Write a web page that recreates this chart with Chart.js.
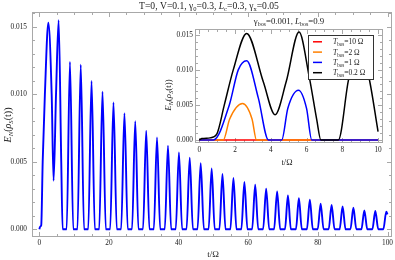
<!DOCTYPE html>
<html>
<head>
<meta charset="utf-8">
<script src="https://cdn.jsdelivr.net/npm/chart.js@4.4.1/dist/chart.umd.min.js"></script>
<style>
  html, body { margin: 0; padding: 0; background: #fff; }
  #wrap { position: relative; width: 395px; height: 260px; }
  #mainChart { position: absolute; left: 0; top: 0; }
  #insetChart { position: absolute; left: 150px; top: 14px; }
</style>
</head>
<body>
<div id="wrap">
  <canvas id="mainChart" width="395" height="260"></canvas>
  <canvas id="insetChart" width="240" height="156"></canvas>
</div>
<script>
// main curve (t/Omega, E_N)
const mainT = [0, 0.25, 0.55, 0.97, 1.6, 2.6, 3.55, 4.1, 4.8, 5.55, 6.3, 6.7,
  7.85, 8.8, 9.75, 10.95, 11.9, 12.85, 14.05, 15.0, 15.95, 17.2, 18.15, 19.1,
  20.35, 21.3, 22.25, 23.5, 24.45, 25.4, 26.63, 27.55, 28.47, 29.78, 30.7, 31.62,
  32.88, 33.8, 34.72, 36.03, 36.95, 37.87, 39.18, 40.1, 41.02, 42.28, 43.2, 44.12,
  45.43, 46.35, 47.27, 48.62, 49.5, 50.38, 51.72, 52.6, 53.48, 54.87, 55.75, 56.63,
  58.02, 58.9, 59.78, 61.12, 62.0, 62.88, 64.27, 65.15, 66.03, 67.42, 68.3, 69.18,
  70.55, 71.4, 72.25, 73.7, 74.55, 75.4, 76.85, 77.7, 78.55, 79.95, 80.8, 81.65,
  83.1, 83.95, 84.8, 86.25, 87.1, 87.95, 89.35, 90.2, 91.05, 92.5, 93.35, 94.2,
  95.65, 96.5, 97.35, 98.8, 99.65, 100];
const mainE = [0, 0.0002, 0.0003, 0.005, 0.010, 0.0153, 0.010, 0.0036, 0.010, 0.0155, 0.005, 0,
  0, 0.0124, 0, 0, 0.0122, 0, 0, 0.0110, 0, 0, 0.0102, 0,
  0, 0.0094, 0, 0, 0.0086, 0, 0, 0.0080, 0, 0, 0.0073, 0,
  0, 0.0068, 0, 0, 0.0062, 0, 0, 0.0057, 0, 0, 0.0053, 0,
  0, 0.0049, 0, 0, 0.0045, 0, 0, 0.0041, 0, 0, 0.0038, 0,
  0, 0.0035, 0, 0, 0.0033, 0, 0, 0.0030, 0, 0, 0.0028, 0,
  0, 0.0025, 0, 0, 0.0023, 0, 0, 0.0022, 0, 0, 0.0019, 0,
  0, 0.0018, 0, 0, 0.0017, 0, 0, 0.0016, 0, 0, 0.0014, 0,
  0, 0.00135, 0, 0, 0.0013, 0.0011];

// inset curves
const tbosLabels = ['10', '2', '1', '0.2'];
const redT = [0, 10];
const redE = [0, 0];
const orangeT = [0, 1.34, 1.7, 2.42, 2.95, 3.2, 10];
const orangeE = [0, 0, 0.003, 0.0052, 0.003, 0, 0];
const blueT = [0, 0.79, 1.68, 2.18, 2.65, 3.3, 3.87, 4.61, 4.95, 5.55, 6.0, 6.29, 10];
const blueE = [0, 0, 0.005, 0.010, 0.0113, 0.006, 0, 0, 0.0045, 0.0071, 0.0045, 0, 0];
const blackT = [0, 0.15, 0.6, 0.97, 1.4, 1.9, 2.65, 3.58, 4.24, 4.86, 5.58, 6.15, 6.57, 6.8, 7.78, 8.35, 8.95, 9.5, 10];
const blackE = [0, 0.0002, 0.0003, 0.0008, 0.005, 0.010, 0.0152, 0.0083, 0.0036, 0.0083, 0.0154, 0.009, 0.0029, 0, 0, 0.0086, 0.0135, 0.0088, 0.0012];

const mainXTicks = [0, 20, 40, 60, 80, 100];
const mainYTicks = [0, 0.005, 0.010, 0.015];
const insetXTicks = [0, 2, 4, 6, 8, 10];
const insetYTicks = [0, 0.005, 0.010, 0.015];

const SERIF = '"Liberation Serif", "DejaVu Serif", serif';
const FRAME = '#a8a8a8';

function pts(ts, es) { return ts.map((t, i) => ({ x: t, y: es[i] })); }

// text with subscripts / italics: parts = [[text, style]], style: '', 'i', 's', 'si'
function drawRich(ctx, parts, x, y, size, align) {
  const fonts = parts.map(p => {
    const st = p[1] || '';
    const sz = st.includes('s') ? size * 0.68 : size;
    return (st.includes('i') ? 'italic ' : '') + sz + 'px ' + SERIF;
  });
  let w = 0;
  const ws = parts.map((p, i) => { ctx.font = fonts[i]; const m = ctx.measureText(p[0]).width; w += m; return m; });
  let cx = align === 'center' ? x - w / 2 : (align === 'right' ? x - w : x);
  ctx.textAlign = 'left';
  ctx.textBaseline = 'alphabetic';
  parts.forEach((p, i) => {
    ctx.font = fonts[i];
    const dy = (p[1] || '').includes('s') ? size * 0.24 : 0;
    ctx.fillText(p[0], cx, y + dy);
    cx += ws[i];
  });
}

function range(a, b, step) {
  const out = [];
  for (let v = a; v <= b + step * 0.01; v += step) out.push(v);
  return out;
}

function framePlugin(xMajor, xMinor, yMajor, yMinor) {
  return {
    id: 'frame',
    beforeDatasetsDraw(chart) {
      const { ctx, chartArea: a, scales: { x, y } } = chart;
      const L = Math.round(a.left) + 0.5, R = Math.round(a.right) - 0.5;
      const T = Math.round(a.top) + 0.5, B = Math.round(a.bottom) - 0.5;
      ctx.save();
      ctx.strokeStyle = FRAME;
      ctx.lineWidth = 1;
      ctx.strokeRect(L, T, R - L, B - T);
      ctx.beginPath();
      const tick = (vals, len, isX) => vals.forEach(v => {
        if (isX) {
          const px = Math.round(x.getPixelForValue(v)) + 0.5;
          ctx.moveTo(px, B); ctx.lineTo(px, B - len);
          ctx.moveTo(px, T); ctx.lineTo(px, T + len);
        } else {
          const py = Math.round(y.getPixelForValue(v)) + 0.5;
          ctx.moveTo(L, py); ctx.lineTo(L + len, py);
          ctx.moveTo(R, py); ctx.lineTo(R - len, py);
        }
      });
      tick(xMajor, 4.5, true); tick(xMinor, 2.5, true);
      tick(yMajor, 4.5, false); tick(yMinor, 2.5, false);
      ctx.stroke();
      ctx.restore();
    }
  };
}

const yLabelParts = [['E', 'i'], ['N', 'si'], ['('], ['ρ', 'i'], ['S', 'si'], ['(t))']];
const xLabelParts = [['t/Ω']];

const mainText = {
  id: 'mainText',
  afterDraw(chart) {
    const ctx = chart.ctx;
    ctx.save();
    ctx.fillStyle = '#222';
    drawRich(ctx, [['T=0, V=0.1, γ'], ['0', 's'], ['=0.3, '], ['L', 'i'], ['c', 's'], ['=0.3, γ'], ['x', 's'], ['=0.05']], 209, 9, 9.6, 'center');
    drawRich(ctx, xLabelParts, 213, 256.5, 9, 'center');
    ctx.translate(11, 125);
    ctx.rotate(-Math.PI / 2);
    drawRich(ctx, yLabelParts, 0, 0, 10, 'center');
    ctx.restore();
  }
};

const tickFont = { family: SERIF, size: 7.3 };

new Chart(document.getElementById('mainChart'), {
  type: 'line',
  data: {
    datasets: [{
      data: pts(mainT, mainE),
      borderColor: '#0000ff',
      borderWidth: 1.9,
      pointRadius: 0,
      cubicInterpolationMode: 'monotone',
      fill: false
    }]
  },
  options: {
    responsive: false,
    animation: false,
    devicePixelRatio: 1,
    layout: { padding: { left: 0, right: 2, top: 12, bottom: 0 } },
    plugins: { legend: { display: false }, tooltip: { enabled: false } },
    scales: {
      x: {
        type: 'linear', min: -2.1, max: 101.3,
        afterBuildTicks: s => { s.ticks = mainXTicks.map(v => ({ value: v })); },
        afterFit: s => { s.height = 23.3; },
        grid: { display: false, drawTicks: false }, border: { display: false },
        ticks: { font: tickFont, color: '#222', padding: 2, maxRotation: 0, autoSkip: false, callback: v => String(v) }
      },
      y: {
        type: 'linear', min: -0.00055, max: 0.0161,
        afterBuildTicks: s => { s.ticks = mainYTicks.map(v => ({ value: v })); },
        afterFit: s => { s.width = 32; },
        grid: { display: false, drawTicks: false }, border: { display: false },
        ticks: { font: tickFont, color: '#222', padding: 5, autoSkip: false, callback: v => v.toFixed(3) }
      }
    }
  },
  plugins: [framePlugin(mainXTicks, range(0, 100, 5), mainYTicks, range(0, 0.016, 0.001)), mainText]
});

const insetColors = ['#ff0000', '#ff8000', '#0000ff', '#000000'];

const insetText = {
  id: 'insetText',
  afterDatasetsDraw(chart) {
    const ctx = chart.ctx;
    ctx.save();
    // legend box
    const bx = 158.5, by = 21.5, bw = 65, bh = 44;
    ctx.fillStyle = '#fff';
    ctx.fillRect(bx, by, bw, bh);
    ctx.strokeStyle = '#333';
    ctx.lineWidth = 1;
    ctx.strokeRect(bx, by, bw, bh);
    chart.data.datasets.forEach((ds, i) => {
      const cy = 27.8 + 10.3 * i;
      ctx.strokeStyle = ds.borderColor;
      ctx.lineWidth = 1.5;
      ctx.beginPath();
      ctx.moveTo(163, cy); ctx.lineTo(172, cy);
      ctx.stroke();
      ctx.fillStyle = '#222';
      drawRich(ctx, [['T', 'i'], ['bos', 's'], ['=' + tbosLabels[i] + ' Ω']], 183, cy + 2.6, 7.5, 'left');
    });
    ctx.restore();
  },
  afterDraw(chart) {
    const ctx = chart.ctx;
    ctx.save();
    ctx.fillStyle = '#222';
    drawRich(ctx, [['γ'], ['bos', 's'], ['=0.001, '], ['L', 'i'], ['bos', 's'], ['=0.9']], 139, 10, 8.8, 'center');
    drawRich(ctx, xLabelParts, 137, 151, 8.5, 'center');
    ctx.translate(21, 81);
    ctx.rotate(-Math.PI / 2);
    drawRich(ctx, yLabelParts, 0, 0, 9, 'center');
    ctx.restore();
  }
};

new Chart(document.getElementById('insetChart'), {
  type: 'line',
  data: {
    datasets: [
      { label: 'Tbos=10 Ω', data: pts(redT, redE), borderColor: insetColors[0], order: 3 },
      { label: 'Tbos=2 Ω', data: pts(orangeT, orangeE), borderColor: insetColors[1], order: 2 },
      { label: 'Tbos=1 Ω', data: pts(blueT, blueE), borderColor: insetColors[2], order: 1 },
      { label: 'Tbos=0.2 Ω', data: pts(blackT, blackE), borderColor: insetColors[3], order: 0 }
    ].map(d => Object.assign(d, { borderWidth: 1.5, pointRadius: 0, cubicInterpolationMode: 'monotone', fill: false }))
  },
  options: {
    responsive: false,
    animation: false,
    devicePixelRatio: 1,
    layout: { padding: { left: 0, right: 7.3, top: 14.5, bottom: 0 } },
    plugins: { legend: { display: false }, tooltip: { enabled: false } },
    scales: {
      x: {
        type: 'linear', min: -0.24, max: 10.26,
        afterBuildTicks: s => { s.ticks = insetXTicks.map(v => ({ value: v })); },
        afterFit: s => { s.height = 27.5; },
        grid: { display: false, drawTicks: false }, border: { display: false },
        ticks: { font: tickFont, color: '#222', padding: 3, maxRotation: 0, autoSkip: false, callback: v => String(v) }
      },
      y: {
        type: 'linear', min: -0.00036, max: 0.0159,
        afterBuildTicks: s => { s.ticks = insetYTicks.map(v => ({ value: v })); },
        afterFit: s => { s.width = 45; },
        grid: { display: false, drawTicks: false }, border: { display: false },
        ticks: { font: tickFont, color: '#222', padding: 2, autoSkip: false, callback: v => v.toFixed(3) }
      }
    }
  },
  plugins: [framePlugin(insetXTicks, range(0, 10, 0.5), insetYTicks, range(0, 0.015, 0.001)), insetText]
});
</script>
</body>
</html>
